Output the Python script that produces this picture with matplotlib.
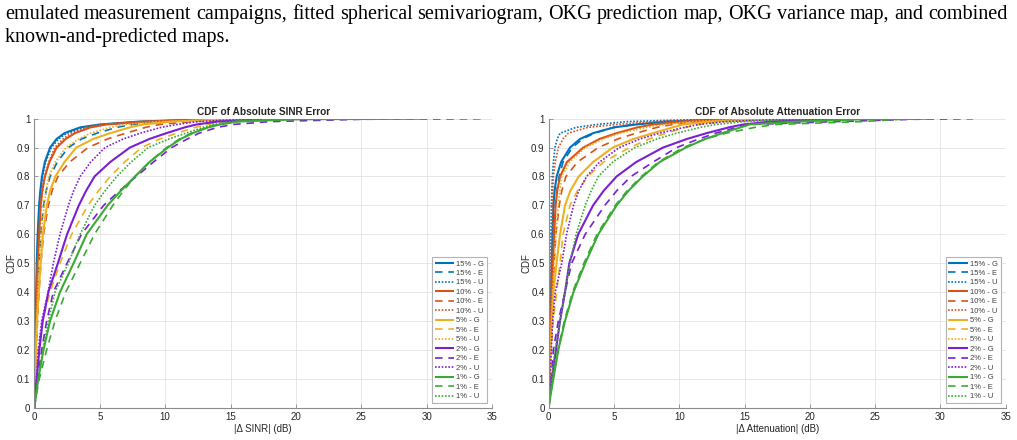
import matplotlib
matplotlib.use("Agg")
import matplotlib.pyplot as plt
from matplotlib.ticker import FuncFormatter, MultipleLocator

# ---------------- data ----------------
P = [0, 0.05, 0.1, 0.2, 0.3, 0.4, 0.5, 0.6, 0.7, 0.75, 0.8, 0.85, 0.9,
     0.93, 0.95, 0.97, 0.98, 0.99, 0.998, 1.0]

labels = ["15% - G", "15% - E", "15% - U",
          "10% - G", "10% - E", "10% - U",
          "5% - G", "5% - E", "5% - U",
          "2% - G", "2% - E", "2% - U",
          "1% - G", "1% - E", "1% - U"]

# |Δ SINR| (dB) at each CDF level in P
s15G = [0, 0.015, 0.03, 0.06, 0.10, 0.14, 0.18, 0.25, 0.36, 0.45, 0.58, 0.8, 1.2, 1.7, 2.3, 3.5, 5.0, 8.0, 13, 20]
s15E = [0, 0.025, 0.05, 0.10, 0.17, 0.25, 0.36, 0.48, 0.70, 0.9, 1.2, 1.75, 2.6, 3.6, 4.8, 6.3, 7.5, 10, 15, 22]
s15U = [0, 0.015, 0.03, 0.06, 0.10, 0.15, 0.20, 0.27, 0.38, 0.48, 0.62, 0.85, 1.3, 1.85, 2.5, 3.8, 5.3, 8.5, 14, 21]
s10G = [0, 0.02, 0.04, 0.08, 0.13, 0.19, 0.25, 0.36, 0.48, 0.6, 0.8, 1.15, 1.7, 2.4, 3.1, 4.3, 5.5, 8.5, 14, 20]
s10E = [0, 0.035, 0.07, 0.14, 0.23, 0.35, 0.5, 0.7, 1.07, 1.35, 1.8, 2.7, 4.1, 5.6, 7.0, 8.5, 9.6, 12, 16, 22]
s10U = [0, 0.02, 0.04, 0.08, 0.13, 0.19, 0.26, 0.36, 0.5, 0.62, 0.8, 1.1, 1.55, 2.2, 2.8, 4.0, 5.2, 8, 14, 20]
s5G = [0, 0.03, 0.06, 0.12, 0.2, 0.33, 0.48, 0.65, 0.95, 1.2, 1.6, 2.3, 3.2, 4.5, 5.8, 7.3, 8.3, 10.5, 15, 21]
s5E = [0, 0.05, 0.12, 0.3, 0.6, 1.2, 1.96, 2.85, 4.1, 4.9, 5.8, 6.9, 8.2, 9.6, 10.9, 12.3, 13.2, 14.5, 17, 22]
s5U = [0, 0.025, 0.05, 0.1, 0.17, 0.25, 0.36, 0.5, 0.75, 0.9, 1.1, 1.6, 2.4, 3.4, 4.3, 5.8, 7.0, 9.5, 15, 21]
s2G = [0, 0.08, 0.18, 0.38, 0.64, 1.07, 1.8, 2.5, 3.4, 3.95, 4.6, 5.8, 7.3, 8.8, 10.1, 11.5, 12.4, 14, 18, 24]
s2E = [0, 0.12, 0.25, 0.56, 0.94, 1.45, 2.5, 3.6, 5.3, 6.5, 7.8, 9.1, 10.5, 11.7, 12.6, 14.0, 15.2, 18, 25, 34.5]
s2U = [0, 0.07, 0.15, 0.3, 0.56, 1.05, 1.45, 1.96, 2.6, 3.0, 3.5, 4.3, 5.4, 6.8, 8.1, 9.7, 10.9, 12.5, 16, 22]
s1G = [0, 0.14, 0.3, 0.7, 1.2, 1.96, 3.0, 4.0, 5.6, 6.6, 7.7, 8.8, 10.2, 11.2, 12.1, 13.3, 14.2, 15.5, 20, 30]
s1E = [0, 0.18, 0.38, 0.94, 1.58, 2.4, 3.5, 4.6, 6.0, 6.8, 7.7, 8.8, 10.1, 11.1, 12.0, 13.2, 14.0, 15.5, 18, 22]
s1U = [0, 0.14, 0.3, 0.64, 1.07, 1.58, 2.6, 3.5, 4.6, 5.4, 6.3, 7.4, 8.7, 10.3, 11.6, 12.9, 13.7, 15, 18, 22]

# |Δ Attenuation| (dB) at each CDF level in P
a15G = [0, 0.02, 0.04, 0.08, 0.13, 0.18, 0.23, 0.29, 0.36, 0.45, 0.61, 0.95, 1.63, 2.4, 3.4, 5.0, 6.7, 9, 14, 20]
a15E = [0, 0.025, 0.05, 0.1, 0.16, 0.22, 0.3, 0.4, 0.5, 0.62, 0.8, 1.1, 1.8, 2.6, 3.5, 5.0, 6.5, 9, 14, 20]
a15U = [0, 0.01, 0.02, 0.04, 0.07, 0.1, 0.13, 0.17, 0.21, 0.24, 0.28, 0.36, 0.48, 0.65, 0.87, 2.1, 3.7, 6, 12, 18]
a10G = [0, 0.025, 0.05, 0.1, 0.17, 0.25, 0.33, 0.42, 0.53, 0.65, 0.87, 1.4, 2.65, 3.9, 5.2, 6.8, 8.0, 10.5, 15, 21]
a10E = [0, 0.03, 0.06, 0.13, 0.22, 0.32, 0.42, 0.55, 0.81, 1.0, 1.32, 2.2, 3.8, 5.3, 6.7, 8.3, 9.5, 12, 16, 22]
a10U = [0, 0.015, 0.03, 0.06, 0.1, 0.14, 0.19, 0.24, 0.29, 0.32, 0.36, 0.5, 0.74, 1.1, 1.5, 3.0, 5.2, 8, 14, 20]
a5G = [0, 0.035, 0.07, 0.15, 0.25, 0.36, 0.6, 0.87, 1.25, 1.65, 2.3, 3.4, 4.9, 6.5, 8.0, 9.5, 10.3, 12.5, 16, 22]
a5E = [0, 0.05, 0.1, 0.2, 0.35, 0.6, 0.87, 1.1, 1.63, 2.2, 3.0, 4.2, 6.2, 7.7, 9.0, 10.5, 11.5, 13.5, 17, 22]
a5U = [0, 0.03, 0.06, 0.12, 0.2, 0.3, 0.42, 0.55, 0.72, 0.85, 1.0, 1.6, 2.8, 4.2, 5.5, 7.5, 9.0, 11, 15, 21]
a2G = [0, 0.1, 0.23, 0.56, 0.87, 1.25, 1.58, 2.26, 3.4, 4.2, 5.2, 6.7, 8.75, 10.6, 12.1, 13.8, 14.9, 17, 21, 25]
a2E = [0, 0.09, 0.2, 0.36, 0.74, 1.25, 1.76, 2.8, 4.3, 5.2, 6.3, 8.0, 9.8, 11.5, 12.8, 14.4, 15.4, 22, 28, 32.5]
a2U = [0, 0.05, 0.1, 0.2, 0.3, 0.5, 1.0, 1.37, 1.9, 2.3, 2.9, 3.9, 5.4, 7.0, 8.5, 10.4, 11.5, 13.5, 18, 23]
a1G = [0, 0.17, 0.36, 0.74, 1.25, 1.9, 2.8, 3.8, 5.2, 6.1, 7.2, 8.5, 10.5, 12.0, 13.3, 14.7, 15.4, 19, 24, 29.5]
a1E = [0, 0.16, 0.33, 0.7, 1.2, 1.83, 2.7, 3.7, 5.1, 6.0, 7.1, 8.4, 10.3, 12.0, 13.6, 15.8, 17.4, 24, 27, 28]
a1U = [0, 0.11, 0.23, 0.48, 0.87, 1.25, 1.63, 2.1, 2.8, 3.25, 3.8, 4.9, 6.6, 8.3, 9.8, 11.6, 12.8, 15, 19, 24]

sinr_series = [s15G, s15E, s15U, s10G, s10E, s10U, s5G, s5E, s5U,
               s2G, s2E, s2U, s1G, s1E, s1U]
att_series = [a15G, a15E, a15U, a10G, a10E, a10U, a5G, a5E, a5U,
              a2G, a2E, a2U, a1G, a1E, a1U]

caption_line1 = ("emulated measurement campaigns, fitted spherical semivariogram, "
                 "OKG prediction map, OKG variance map, and combined")
caption_line2 = "known-and-predicted maps."

# ---------------- styles ----------------
group_colors = ["#0072BD", "#D95319", "#EDB120", "#7B1FD6", "#3BAA35"]
styles = {"G": dict(ls="-", lw=1.5),
          "E": dict(ls=(0, (4.5, 3.5)), lw=1.2),
          "U": dict(ls=(0, (1, 1)), lw=1.2)}

W, H = 1017, 440
fig = plt.figure(figsize=(W / 100, H / 100), dpi=100)
fig.patch.set_facecolor("white")

TXT = "#262626"
AX = "#8c8c8c"
plt.rcParams["font.family"] = ["Liberation Sans", "DejaVu Sans"]


def make_axes(rect, series, title, xlabel):
    ax = fig.add_axes(rect)
    for i, (lab, xs) in enumerate(zip(labels, series)):
        kind = lab.split("-")[1].strip()
        st = styles[kind]
        ax.plot(xs, P, color=group_colors[i // 3], linestyle=st["ls"],
                linewidth=st["lw"], label=lab, solid_capstyle="butt",
                solid_joinstyle="round")
    ax.set_xlim(0, 35)
    ax.set_ylim(0, 1)
    ax.xaxis.set_major_locator(MultipleLocator(5))
    ax.yaxis.set_major_locator(MultipleLocator(0.1))
    ax.yaxis.set_major_formatter(FuncFormatter(
        lambda v, p: "0" if abs(v) < 1e-9 else ("1" if abs(v - 1) < 1e-9 else f"{v:.1f}")))
    ax.grid(True, color="#e3e3e3", linewidth=0.6)
    ax.set_axisbelow(True)
    for side in ("top", "right"):
        ax.spines[side].set_visible(False)
    for side in ("left", "bottom"):
        ax.spines[side].set_color(AX)
        ax.spines[side].set_linewidth(0.8)
    ax.tick_params(direction="in", length=3, width=0.6, color=AX,
                   labelsize=7, labelcolor=TXT, pad=3)
    ax.set_title(title, fontsize=7.3, fontweight="bold", color=TXT, pad=3)
    ax.set_xlabel(xlabel, fontsize=7, color=TXT, labelpad=2)
    ax.set_ylabel("CDF", fontsize=7, color=TXT, labelpad=0)
    leg = ax.legend(loc="lower right", bbox_to_anchor=(0.989, 0.0156),
                    borderaxespad=0, fontsize=5.5, frameon=True, fancybox=False,
                    framealpha=1, edgecolor="#b4b4b4", handlelength=2.6,
                    handletextpad=0.25, labelspacing=0.28, borderpad=0.35)
    leg.get_frame().set_linewidth(0.8)
    for t in leg.get_texts():
        t.set_color("#404040")
    return ax


axL = make_axes([34.4 / W, 32.5 / H, 457.6 / W, 288.8 / H], sinr_series,
                "CDF of Absolute SINR Error", "|\u0394 SINR| (dB)")
axR = make_axes([548.7 / W, 32.5 / H, 457.0 / W, 288.8 / H], att_series,
                "CDF of Absolute Attenuation Error", "|\u0394 Attenuation| (dB)")

# ---------------- caption text (justified first line) ----------------
renderer = fig.canvas.get_renderer()
left_px, right_px = 5, 1008
serif = ["Liberation Serif", "DejaVu Serif"]
probe = fig.text(0, 0, caption_line1, family=serif, fontsize=13.0)
fs = 13.0 * (right_px - left_px) / probe.get_window_extent(renderer=renderer).width
probe.remove()
cap_font = dict(family=serif, fontsize=fs, color="black")

words = caption_line1.split(" ")
base1 = H - 19
objs, widths = [], []
for w in words:
    t = fig.text(0, base1 / H, w, va="baseline", ha="left", **cap_font)
    objs.append(t)
    widths.append(t.get_window_extent(renderer=renderer).width)
gap = (right_px - left_px - sum(widths)) / (len(words) - 1)
x = left_px
for t, wd in zip(objs, widths):
    t.set_x(x / W)
    x += wd + gap
fig.text(left_px / W, (H - 42) / H, caption_line2, va="baseline", ha="left", **cap_font)

fig.savefig("out.png", dpi=100, facecolor="white")
